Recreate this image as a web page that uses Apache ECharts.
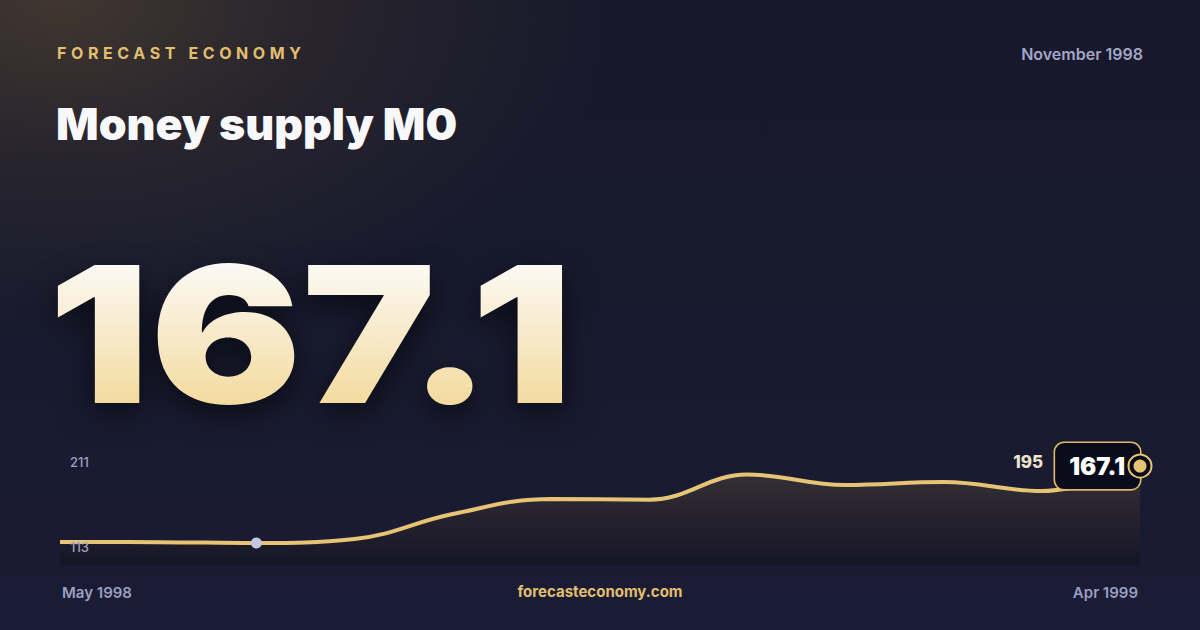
<!DOCTYPE html>
<html>
<head>
<meta charset="utf-8">
<script src="https://cdn.jsdelivr.net/npm/echarts@6/dist/echarts.min.js"></script>
<style>
  html, body { margin: 0; padding: 0; }
  body {
    width: 1200px; height: 630px; overflow: hidden; position: relative;
    background:
      radial-gradient(ellipse 560px 330px at 60px 0px, rgba(72,60,48,0.85) 0%, rgba(72,60,48,0.35) 45%, rgba(72,60,48,0) 100%),
      linear-gradient(180deg, #17182b 0%, #181a2f 60%, #1b1c35 100%);
    font-family: Inter, sans-serif;
  }
  #chart { position: absolute; left: 0; top: 0; width: 1200px; height: 630px; }
  .t { position: absolute; line-height: 1; white-space: nowrap; margin: 0; }
  #brand { left: 57px; top: 45px; font-size: 16px; font-weight: 700; letter-spacing: 4.6px; color: #e2bf6e; }
  #period { right: 57px; top: 46px; font-size: 16px; font-weight: 600; color: #a3a6c6; }
  #title { left: 56px; top: 102px; font-size: 44.6px; font-weight: 900; color: #f8f8fb; }
  #big {
    left: 48px; top: 239px; font-size: 190px; font-weight: 900;
    transform: scaleX(1.186); transform-origin: 0 0;
    background: linear-gradient(180deg, #fcfbf8 10%, #f3d99b 90%);
    -webkit-background-clip: text; background-clip: text; color: transparent;
    filter: drop-shadow(0 10px 14px rgba(0,0,0,0.55));
  }
</style>
</head>
<body>
<div id="chart"></div>
<div class="t" id="brand"></div>
<div class="t" id="period"></div>
<div class="t" id="title"></div>
<div class="t" id="big"></div>
<script>
// ---- data ----
const months = ['May 1998','Jun 1998','Jul 1998','Aug 1998','Sep 1998','Oct 1998','Nov 1998','Dec 1998','Jan 1999','Feb 1999','Mar 1999','Apr 1999'];
const values = [118.4, 118.3, 117.3, 121.9, 150.6, 167.9, 167.1, 196.0, 184.0, 187.4, 177.1, 205.8];
const axisLabels = [113, 211];
const headline = '167.1';
const sideValue = '195';
const brand = 'FORECAST ECONOMY';
const title = 'Money supply M0';
const period = 'November 1998';
const site = 'forecasteconomy.com';
const markedIndex = 2;

document.getElementById('brand').textContent = brand;
document.getElementById('period').textContent = period;
document.getElementById('title').textContent = title;
document.getElementById('big').textContent = headline;

const GOLD = '#e6c474';
const last = values.length - 1;

const chart = echarts.init(document.getElementById('chart'), null, { renderer: 'svg' });

const lineData = values.map((v, i) => {
  if (i === markedIndex) {
    return { value: v, symbol: 'circle', symbolSize: 11, itemStyle: { color: '#c3c7df', borderWidth: 0 } };
  }
  return { value: v, symbol: 'none' };
});

chart.setOption({
  backgroundColor: 'transparent',
  animation: false,
  grid: { left: 60, right: 60, top: 445, bottom: 65 },
  xAxis: {
    type: 'category',
    data: months,
    boundaryGap: false,
    axisLine: { show: false },
    axisTick: { show: false },
    splitLine: { show: false },
    axisLabel: {
      interval: (i) => i === 0 || i === months.length - 1,
      alignMinLabel: 'left',
      alignMaxLabel: 'right',
      padding: [0, 2, 0, 2],
      margin: 20,
      color: '#9c9fc0',
      fontFamily: 'Inter',
      fontWeight: 600,
      fontSize: 15
    }
  },
  yAxis: {
    type: 'value',
    min: 92,
    max: 230,
    z: 10,
    axisLine: { show: false },
    axisTick: { show: false },
    splitLine: { show: false },
    axisLabel: {
      inside: true,
      customValues: axisLabels,
      margin: 10,
      color: '#9fa1c0',
      fontFamily: 'Inter',
      fontWeight: 500,
      fontSize: 13
    }
  },
  series: [
    {
      type: 'line',
      data: lineData,
      smooth: 0.4,
      showSymbol: true,
      z: 2,
      lineStyle: { color: GOLD, width: 4 },
      areaStyle: {
        color: new echarts.graphic.LinearGradient(0, 0, 0, 1, [
          { offset: 0, color: 'rgba(92,78,64,0.62)' },
          { offset: 0.5, color: 'rgba(50,42,42,0.7)' },
          { offset: 1, color: 'rgba(18,17,30,0.85)' }
        ])
      }
    },
    {
      type: 'scatter',
      z: 3,
      symbol: 'circle',
      symbolSize: 1,
      itemStyle: { color: 'rgba(0,0,0,0)', opacity: 1 },
      data: [[last, values[last]]],
      label: {
        show: true,
        position: ['50%', '50%'],
        align: 'right',
        verticalAlign: 'middle',
        formatter: '{p|' + sideValue + '}{v|' + headline + '}',
        rich: {
          p: { color: '#ece3cc', fontFamily: 'Inter', fontWeight: 800, fontSize: 17, padding: [0, 12, 8, 0] },
          v: {
            color: '#ffffff', fontFamily: 'Inter', fontWeight: 900, fontSize: 24,
            backgroundColor: '#0b0c1b', borderColor: '#dcb868', borderWidth: 1.6, borderRadius: 9,
            padding: [11, 15, 11, 14]
          }
        }
      }
    },
    {
      type: 'scatter',
      z: 4,
      symbol: 'circle',
      symbolSize: 23,
      itemStyle: { color: '#0b0c1b', borderColor: GOLD, borderWidth: 2, opacity: 1 },
      data: [[last, values[last]]]
    },
    {
      type: 'scatter',
      z: 5,
      symbol: 'circle',
      symbolSize: 13,
      itemStyle: { color: GOLD, opacity: 1 },
      data: [[last, values[last]]]
    }
  ],
  graphic: [
    {
      type: 'text', left: 'center', top: 584,
      style: { text: site, fill: '#e2bf6e', font: '700 15px Inter' }
    }
  ]
});
</script>
</body>
</html>
